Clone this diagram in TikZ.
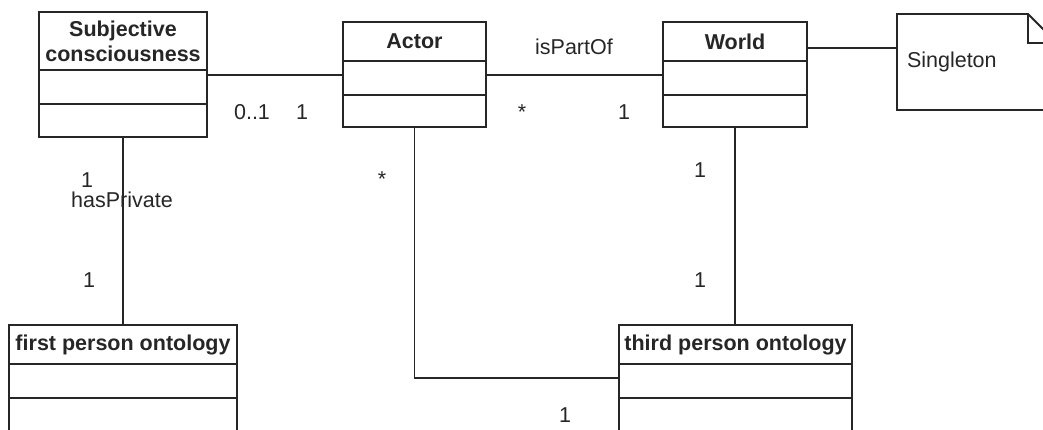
\documentclass[tikz,border=0pt]{standalone}
\usepackage{fontspec}
\setmainfont{Liberation Sans}
\usetikzlibrary{positioning}

\begin{document}
\begin{tikzpicture}[x = 1pt, y = -1pt, line width = 1.8pt, color = black!85,
  every node/.style = {font = \fontsize{21.5}{25}\selectfont, outer sep = 0pt},
  classhead/.style = {draw, inner sep = 0pt, align = center,
    font = \fontsize{21.5}{25}\selectfont\bfseries},
  classrow/.style = {draw, inner sep = 0pt, minimum height = 34pt}]
\useasboundingbox (0,0) rectangle (1043,430);
\clip (0,0) rectangle (1043,430);

% Create class Subjective consciousness
\node[classhead, minimum width = 168pt, minimum height = 58pt] at (123,41) (sc) {Subjective\\consciousness};
\node[classrow, minimum width = 168pt, below = 0pt of sc] (sc1) {};
\node[classrow, minimum width = 168pt, minimum height = 33pt, below = 0pt of sc1] (sc2) {};

% Create class Actor
\node[classhead, minimum width = 143pt, minimum height = 39pt] at (414.5,41.5) (actor) {Actor};
\node[classrow, minimum width = 143pt, below = 0pt of actor] (actor1) {};
\node[classrow, minimum width = 143pt, minimum height = 32pt, below = 0pt of actor1] (actor2) {};

% Create class World
\node[classhead, minimum width = 144pt, minimum height = 39pt] at (735,41.5) (world) {World};
\node[classrow, minimum width = 144pt, below = 0pt of world] (world1) {};
\node[classrow, minimum width = 144pt, minimum height = 32pt, below = 0pt of world1] (world2) {};

% Create classes for the two ontologies
\node[classhead, minimum width = 228pt, minimum height = 39pt] at (123,344.5) (fp) {first person ontology};
\node[classrow, minimum width = 228pt, below = 0pt of fp] (fp1) {};
\node[classrow, minimum width = 228pt, below = 0pt of fp1] (fp2) {};
\node[classhead, minimum width = 233pt, minimum height = 39pt] at (735.5,344.5) (tp) {third person ontology};
\node[classrow, minimum width = 233pt, below = 0pt of tp] (tp1) {};
\node[classrow, minimum width = 233pt, below = 0pt of tp1] (tp2) {};

% Create note Singleton
\node[minimum height = 96pt, text width = 140pt, inner xsep = 10pt, align = left] at (977,62) (note) {Singleton};
\draw (note.north west) -- ([xshift=-29pt]note.north east) -- ([yshift=-29pt]note.north east)
  -- (note.south east) -- (note.south west) -- cycle;
\draw ([xshift=-29pt]note.north east) |- ([yshift=-29pt]note.north east);

% Connect classes
\draw ([yshift=3pt]actor1.west) -- ([yshift=3pt]actor1.west -| sc1.east);
\draw ([yshift=3pt]actor1.east) -- ([yshift=3pt]world1.west);
\draw ([yshift=-6.5pt]world.east) -- ([yshift=-6.5pt]world.east -| note.west);
\draw (sc2.south) -- (fp.north);
\draw (actor2.south) |- ([yshift=3pt]tp1.west);
\draw (world2.south) -- (world2.south |- tp.north);

% Label multiplicities and roles
\node at (252,112) (scactor) {0..1};
\node at (302,112) (actorsc) {1};
\node at (574,47) (ispartof) {isPartOf};
\node at (522,112) (actorworld) {*};
\node at (624,112) (worldactor) {1};
\node at (87,180) (scfp) {1};
\node at (122,200) (hasprivate) {hasPrivate};
\node at (89,280) (fpsc) {1};
\node at (382,179) (actortp) {*};
\node at (700,170) (worldtp) {1};
\node at (700,280) (tpworld) {1};
\node at (565,415) (tpactor) {1};

\end{tikzpicture}
\end{document}
